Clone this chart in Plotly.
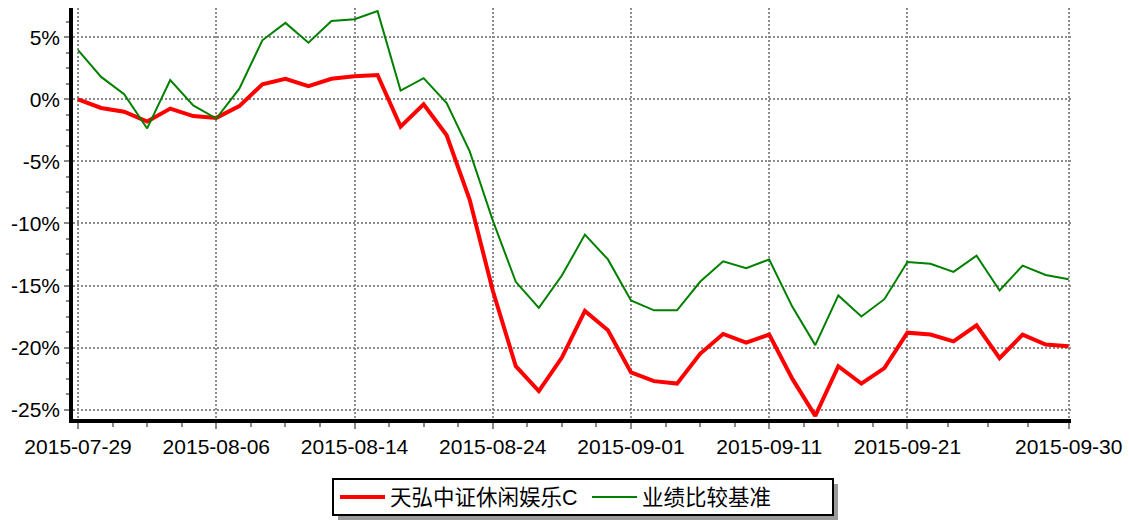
import plotly.graph_objects as go

dates = ["2015-07-29", "2015-07-30", "2015-07-31", "2015-08-03", "2015-08-04", "2015-08-05",
         "2015-08-06", "2015-08-07", "2015-08-10", "2015-08-11", "2015-08-12", "2015-08-13",
         "2015-08-14", "2015-08-17", "2015-08-18", "2015-08-19", "2015-08-20", "2015-08-21",
         "2015-08-24", "2015-08-25", "2015-08-26", "2015-08-27", "2015-08-28", "2015-08-31",
         "2015-09-01", "2015-09-02", "2015-09-07", "2015-09-08", "2015-09-09", "2015-09-10",
         "2015-09-11", "2015-09-14", "2015-09-15", "2015-09-16", "2015-09-17", "2015-09-18",
         "2015-09-21", "2015-09-22", "2015-09-23", "2015-09-24", "2015-09-25", "2015-09-28",
         "2015-09-29", "2015-09-30"]

fund = [0.0, -0.7, -1.0, -1.8, -0.75, -1.35, -1.5, -0.55, 1.2, 1.65, 1.05, 1.65, 1.85, 1.95,
        -2.2, -0.4, -2.9, -8.1, -15.4, -21.5, -23.5, -20.8, -17.05, -18.6,
        -22.0, -22.7, -22.9, -20.5, -18.9, -19.6, -18.95, -22.5, -25.5, -21.5,
        -22.9, -21.65, -18.8, -18.95, -19.5, -18.2, -20.85, -18.95, -19.75, -19.9]

bench = [3.95, 1.8, 0.4, -2.35, 1.55, -0.5, -1.55, 0.85, 4.75, 6.15, 4.55, 6.3, 6.45, 7.1,
         0.7, 1.7, -0.3, -4.2, -9.75, -14.7, -16.8, -14.2, -10.9, -12.9,
         -16.2, -17.0, -17.0, -14.7, -13.05, -13.6, -12.9, -16.7, -19.8, -15.8,
         -17.5, -16.1, -13.1, -13.25, -13.9, -12.6, -15.4, -13.4, -14.15, -14.5]

series_names = ["天弘中证休闲娱乐C", "业绩比较基准"]
x_tick_labels = ["2015-07-29", "2015-08-06", "2015-08-14", "2015-08-24",
                 "2015-09-01", "2015-09-11", "2015-09-21", "2015-09-30"]
y_tick_values = [-25, -20, -15, -10, -5, 0, 5]
y_tick_labels = ["-25%", "-20%", "-15%", "-10%", "-5%", "0%", "5%"]

idx = list(range(len(dates)))
x_tick_pos = [dates.index(d) for d in x_tick_labels]
x_minor = []
for a, b in zip(x_tick_pos[:-1], x_tick_pos[1:]):
    step = (b - a) / 4
    x_minor += [a + step * k for k in range(1, 4)]
y_minor = [v / 100 for v in range(-2500, 751, 125) if v % 500 != 0]

FONT = "Arial, Liberation Sans, Noto Sans CJK SC, sans-serif"

fig = go.Figure()
fig.add_trace(go.Scatter(x=idx, y=fund, mode="lines", name=series_names[0],
                         line=dict(color="#ff0000", width=4)))
fig.add_trace(go.Scatter(x=idx, y=bench, mode="lines", name=series_names[1],
                         line=dict(color="#008000", width=2)))

W, H = 1129, 521
ml, mr, mt, mb = 73, 58, 8, 102

# legend frame geometry (pixels)
bx0, bx1, by0, by1 = 333, 833, 479, 515
shadow = 5

fig.update_layout(
    width=W, height=H,
    margin=dict(l=ml, r=mr, t=mt, b=mb, pad=0),
    paper_bgcolor="white", plot_bgcolor="white",
    font=dict(family=FONT, size=21, color="black"),
    showlegend=True,
    legend=dict(orientation="h", xref="container", yref="container",
                x=(bx0 + 2) / W, xanchor="left",
                y=(H - (by0 + by1) / 2) / H, yanchor="middle",
                bgcolor="rgba(0,0,0,0)", borderwidth=0,
                font=dict(family=FONT, size=21.5, color="black"),
                itemwidth=45, entrywidth=192, entrywidthmode="pixels",
                traceorder="normal"),
)

fig.update_xaxes(
    range=[-0.22, 43.1], showline=True, linecolor="black", linewidth=3.5,
    tickmode="array", tickvals=x_tick_pos, ticktext=x_tick_labels,
    ticks="outside", ticklen=6, tickwidth=1.5, tickcolor="#888888",
    showgrid=True, gridcolor="#8c8c8c", gridwidth=1.5, griddash="2px,2px",
    zeroline=False, ticklabelstandoff=0, automargin=False,
    minor=dict(tickmode="array", tickvals=x_minor, ticks="outside", ticklen=4,
               tickwidth=1.5, tickcolor="#888888", showgrid=False),
)
fig.update_yaxes(
    range=[-25.75, 7.35], showline=True, linecolor="black", linewidth=3.5,
    tickmode="array", tickvals=y_tick_values, ticktext=y_tick_labels,
    ticks="outside", ticklen=5, tickwidth=1.5, tickcolor="#888888",
    showgrid=True, gridcolor="#8c8c8c", gridwidth=1.5, griddash="2px,2px",
    zeroline=False, automargin=False,
    minor=dict(tickmode="array", tickvals=y_minor, ticks="outside", ticklen=3,
               tickwidth=1.5, tickcolor="#888888", showgrid=False),
)

# legend frame + drop shadow (decoration)
pw, ph = W - ml - mr, H - mt - mb
def px_x(v):
    return (v - ml) / pw
def px_y(v):
    return (H - mb - v) / ph
fig.add_shape(type="rect", xref="paper", yref="paper", layer="above",
              x0=px_x(bx0 + shadow), x1=px_x(bx1 + shadow),
              y0=px_y(by1 + shadow), y1=px_y(by0 + shadow),
              fillcolor="#9a9a9a", line=dict(width=0))
fig.add_shape(type="rect", xref="paper", yref="paper", layer="above",
              x0=px_x(bx0), x1=px_x(bx1), y0=px_y(by1), y1=px_y(by0),
              fillcolor="white", line=dict(color="black", width=2))

fig.write_html("out.html", config={"displayModeBar": False},
               post_script="document.body.style.margin='0px';")
